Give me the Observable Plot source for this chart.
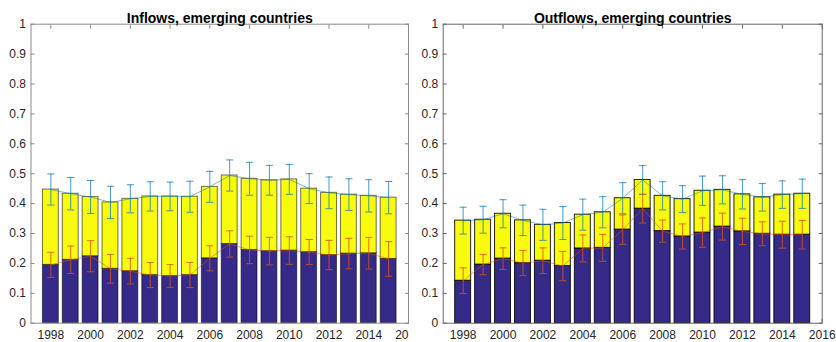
<!DOCTYPE html>
<html>
<head>
<meta charset="utf-8">
<script src="https://cdn.jsdelivr.net/npm/d3@7"></script>
<script src="https://cdn.jsdelivr.net/npm/@observablehq/plot@0.6"></script>
<style>
  html, body { margin: 0; padding: 0; background: white; }
  #chart { position: relative; width: 836px; height: 342px; overflow: hidden; }
  .panel { position: absolute; top: 0; height: 342px; }
  #left { left: 0; width: 409px; overflow: hidden; }
  #right { left: 416px; width: 420px; }
  .panel svg { max-width: none !important; }
</style>
</head>
<body>
<div id="chart">
  <div class="panel" id="left"></div>
  <div class="panel" id="right"></div>
</div>
<script>
// Years covered by both panels
const years = [1998, 1999, 2000, 2001, 2002, 2003, 2004, 2005, 2006,
               2007, 2008, 2009, 2010, 2011, 2012, 2013, 2014, 2015];

// Inflows: lower (dark) component, stacked total, and their error half-widths
const inflowBase     = [0.195, 0.212, 0.224, 0.182, 0.174, 0.161, 0.158, 0.161, 0.217,
                        0.265, 0.245, 0.241, 0.243, 0.238, 0.228, 0.233, 0.234, 0.215];
const inflowTotal    = [0.447, 0.433, 0.422, 0.404, 0.416, 0.424, 0.424, 0.423, 0.456,
                        0.494, 0.483, 0.478, 0.481, 0.450, 0.436, 0.430, 0.426, 0.420];
const inflowBaseErr  = [0.042, 0.046, 0.052, 0.048, 0.043, 0.042, 0.038, 0.042, 0.042,
                        0.044, 0.046, 0.046, 0.046, 0.042, 0.049, 0.051, 0.053, 0.058];
const inflowTotalErr = [0.052, 0.054, 0.055, 0.054, 0.047, 0.049, 0.048, 0.052, 0.052,
                        0.052, 0.055, 0.050, 0.050, 0.050, 0.053, 0.053, 0.054, 0.054];

// Outflows: same layout
const outflowBase     = [0.142, 0.196, 0.216, 0.201, 0.209, 0.191, 0.250, 0.252, 0.313,
                         0.383, 0.308, 0.290, 0.303, 0.323, 0.307, 0.299, 0.296, 0.296];
const outflowTotal    = [0.343, 0.346, 0.366, 0.344, 0.329, 0.335, 0.363, 0.371, 0.418,
                         0.479, 0.426, 0.415, 0.443, 0.446, 0.431, 0.421, 0.430, 0.433];
const outflowBaseErr  = [0.043, 0.034, 0.036, 0.042, 0.043, 0.049, 0.045, 0.045, 0.049,
                         0.048, 0.037, 0.042, 0.049, 0.045, 0.044, 0.040, 0.045, 0.048];
const outflowTotalErr = [0.045, 0.045, 0.047, 0.051, 0.052, 0.055, 0.052, 0.052, 0.052,
                         0.048, 0.047, 0.045, 0.049, 0.047, 0.049, 0.046, 0.046, 0.049];

// Axis ticks
const yTicks = [0, 0.1, 0.2, 0.3, 0.4, 0.5, 0.6, 0.7, 0.8, 0.9, 1];
const xTicks = [1998, 2000, 2002, 2004, 2006, 2008, 2010, 2012, 2014, 2016];

const NAVY = "#352A87";
const YELLOW = "#F9FB0E";
const BLUE = "#0072BD";
const RED = "#D95319";
const FONT = "'Liberation Sans', Arial, Helvetica, sans-serif";

function panel({title, base, total, baseErr, totalErr, width, marginLeft, marginRight, axisColor, edgeOpacity}) {
  const rows = years.map((year, i) => ({
    year, base: base[i], total: total[i], baseErr: baseErr[i], totalErr: totalErr[i]
  }));
  const half = 0.4;   // half bar width, in years
  const cap = 0.18;   // half error-bar cap width, in years
  const errorBars = (key, errKey, color, opacity) => [
    Plot.ruleX(rows, {x: "year", y1: d => d[key] - d[errKey], y2: d => d[key] + d[errKey],
      stroke: color, strokeOpacity: opacity, strokeWidth: 1}),
    Plot.link(rows, {x1: d => d.year - cap, x2: d => d.year + cap,
      y1: d => d[key] + d[errKey], y2: d => d[key] + d[errKey],
      stroke: color, strokeOpacity: opacity, strokeWidth: 1}),
    Plot.link(rows, {x1: d => d.year - cap, x2: d => d.year + cap,
      y1: d => d[key] - d[errKey], y2: d => d[key] - d[errKey],
      stroke: color, strokeOpacity: opacity, strokeWidth: 1})
  ];
  return Plot.plot({
    width, height: 342,
    marginTop: 23.7, marginBottom: 19.3, marginLeft, marginRight,
    style: {fontFamily: FONT, fontSize: "12px", color: "#262626", background: "white", overflow: "visible", maxWidth: "none"},
    x: {domain: [1997, 2016], label: null},
    y: {domain: [0, 1], label: null},
    marks: [
      // inward ticks on all four sides
      Plot.axisY({anchor: "left", ticks: yTicks, tickSize: -4, fill: "none", stroke: axisColor, label: null}),
      Plot.axisY({anchor: "right", ticks: yTicks, tickSize: -4, fill: "none", stroke: axisColor, label: null}),
      Plot.axisX({anchor: "top", ticks: xTicks, tickSize: -4, fill: "none", stroke: axisColor, label: null}),
      Plot.axisX({anchor: "bottom", ticks: xTicks, tickSize: -4, fill: "none", stroke: axisColor, label: null}),
      // tick labels
      Plot.axisY({anchor: "left", ticks: yTicks, tickSize: 0, tickPadding: 5,
        tickFormat: d => String(+d.toFixed(1)), fill: "#262626", label: null}),
      Plot.axisX({anchor: "bottom", ticks: xTicks, tickSize: 0, tickPadding: 7,
        tickFormat: d => String(d), fill: "#262626", label: null}),
      // stacked bars
      Plot.rect(rows, {x1: d => d.year - half, x2: d => d.year + half, y1: 0, y2: "base",
        fill: NAVY, stroke: "black", strokeOpacity: edgeOpacity, strokeWidth: 1}),
      Plot.rect(rows, {x1: d => d.year - half, x2: d => d.year + half, y1: "base", y2: "total",
        fill: YELLOW, stroke: "black", strokeOpacity: edgeOpacity, strokeWidth: 1}),
      // connecting lines and error bars
      Plot.line(rows, {x: "year", y: "total", stroke: BLUE, strokeOpacity: 0.5, strokeWidth: 1}),
      Plot.line(rows, {x: "year", y: "base", stroke: RED, strokeOpacity: 0.55, strokeWidth: 1}),
      ...errorBars("total", "totalErr", BLUE, 0.72),
      ...errorBars("base", "baseErr", RED, 0.82),
      Plot.frame({stroke: axisColor}),
      Plot.text([title], {frameAnchor: "top", dy: -10.7, fontSize: 14, fontWeight: "bold", fill: "#000"})
    ]
  });
}

document.getElementById("left").append(panel({
  title: "Inflows, emerging countries",
  base: inflowBase, total: inflowTotal, baseErr: inflowBaseErr, totalErr: inflowTotalErr,
  width: 416, marginLeft: 30.5, marginRight: 8, axisColor: "#8a8a8a", edgeOpacity: 0.55
}));

document.getElementById("right").append(panel({
  title: "Outflows, emerging countries",
  base: outflowBase, total: outflowTotal, baseErr: outflowBaseErr, totalErr: outflowTotalErr,
  width: 420, marginLeft: 26.7, marginRight: 14.3, axisColor: "#666666", edgeOpacity: 0.85
}));
</script>
</body>
</html>
